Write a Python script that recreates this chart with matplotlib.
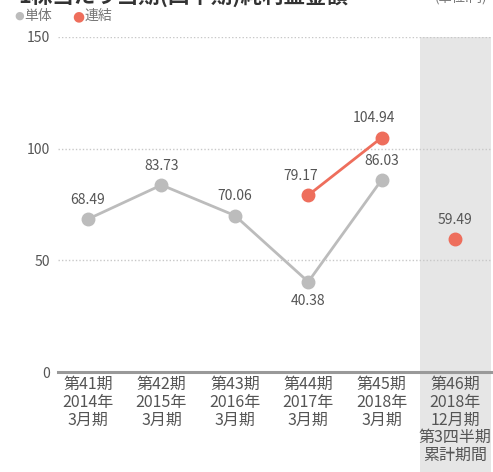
import matplotlib.pyplot as plt
import numpy as np

plt.rcParams['font.family'] = ['Noto Sans CJK JP', 'DejaVu Sans']

# data
periods = ['第41期\n2014年\n3月期', '第42期\n2015年\n3月期', '第43期\n2016年\n3月期',
           '第44期\n2017年\n3月期', '第45期\n2018年\n3月期',
           '第46期\n2018年\n12月期\n第3四半期\n累計期間']
single = [68.49, 83.73, 70.06, 40.38, 86.03]
consol = [79.17, 104.94]
consol_q3 = 59.49
yticks = [0, 50, 100, 150]

GRAY = '#bcbcbc'
RED = '#ee6e5c'
TXT = '#555555'

fig = plt.figure(figsize=(4.93, 4.72), dpi=100)
ax = fig.add_axes([58 / 493, 1 - 372 / 472, 433 / 493, 335 / 472])

x = np.arange(len(periods))
ax.set_xlim(-0.41, 5.49)
ax.set_ylim(0, 150)

# shaded quarter column (extends below axis behind labels)
ax.axvspan(4.52, 5.49, ymin=-0.30, ymax=1.0, color='#e6e6e6', lw=0,
           clip_on=False, zorder=0)

# grid
for v in yticks[1:]:
    ax.axhline(v, color='#c8c8c8', lw=1.0, ls=(0, (1, 1.5)), zorder=1)
ax.axhline(0, color='#999999', lw=2.2, zorder=2, clip_on=False)

# series
ax.plot(x[:5], single, color=GRAY, lw=2, marker='o', ms=9, mec=GRAY, mfc=GRAY, zorder=3)
ax.plot(x[3:5], consol, color=RED, lw=2, marker='o', ms=9, mec=RED, mfc=RED, zorder=4)
ax.plot([x[5]], [consol_q3], color=RED, marker='o', ms=9, ls='none', zorder=4)

lab = dict(ha='center', fontsize=10, color=TXT)
for xi, v in zip(x[:5], single):
    if v < 50:
        ax.text(xi, v - 5.5, f'{v:.2f}', va='top', **lab)
    else:
        ax.text(xi, v + 5.5, f'{v:.2f}', va='bottom', **lab)
for xi, v in zip(x[3:5], consol):
    ax.text(xi - 0.1, v + 5.5, f'{v:.2f}', va='bottom', **lab)
ax.text(x[5], consol_q3 + 5.5, f'{consol_q3:.2f}', va='bottom', **lab)

# axes styling
for s in ax.spines.values():
    s.set_visible(False)
ax.set_yticks(yticks)
ax.set_yticklabels([str(v) for v in yticks], fontsize=10, color=TXT)
ax.tick_params(axis='y', length=0, pad=6)
ax.set_xticks(x)
ax.set_xticklabels(periods, fontsize=11.5, color=TXT, linespacing=1.05)
ax.tick_params(axis='x', length=0, pad=3)
ax.patch.set_alpha(0)

# title (cut at the top edge) and unit
fig.text(18 / 493, 1 - 3 / 472, '1株当たり当期(四半期)純利益金額', ha='left', va='baseline',
         fontsize=15.5, fontweight='bold', color='#333333')
fig.text(435 / 493, 1 - 2 / 472, '(単位:円)', ha='left', va='baseline', fontsize=9.5,
         color='#777777')

# legend
fig.text(14 / 493, 1 - 16 / 472, '●', ha='left', va='center', fontsize=8, color=GRAY,
         family=['DejaVu Sans'])
fig.text(24 / 493, 1 - 16 / 472, '単体', ha='left', va='center', fontsize=10, color='#777777')
fig.text(72 / 493, 1 - 16 / 472, '●', ha='left', va='center', fontsize=10, color=RED,
         family=['DejaVu Sans'])
fig.text(85 / 493, 1 - 16 / 472, '連結', ha='left', va='center', fontsize=10, color='#777777')

fig.savefig('out.png', dpi=100)
